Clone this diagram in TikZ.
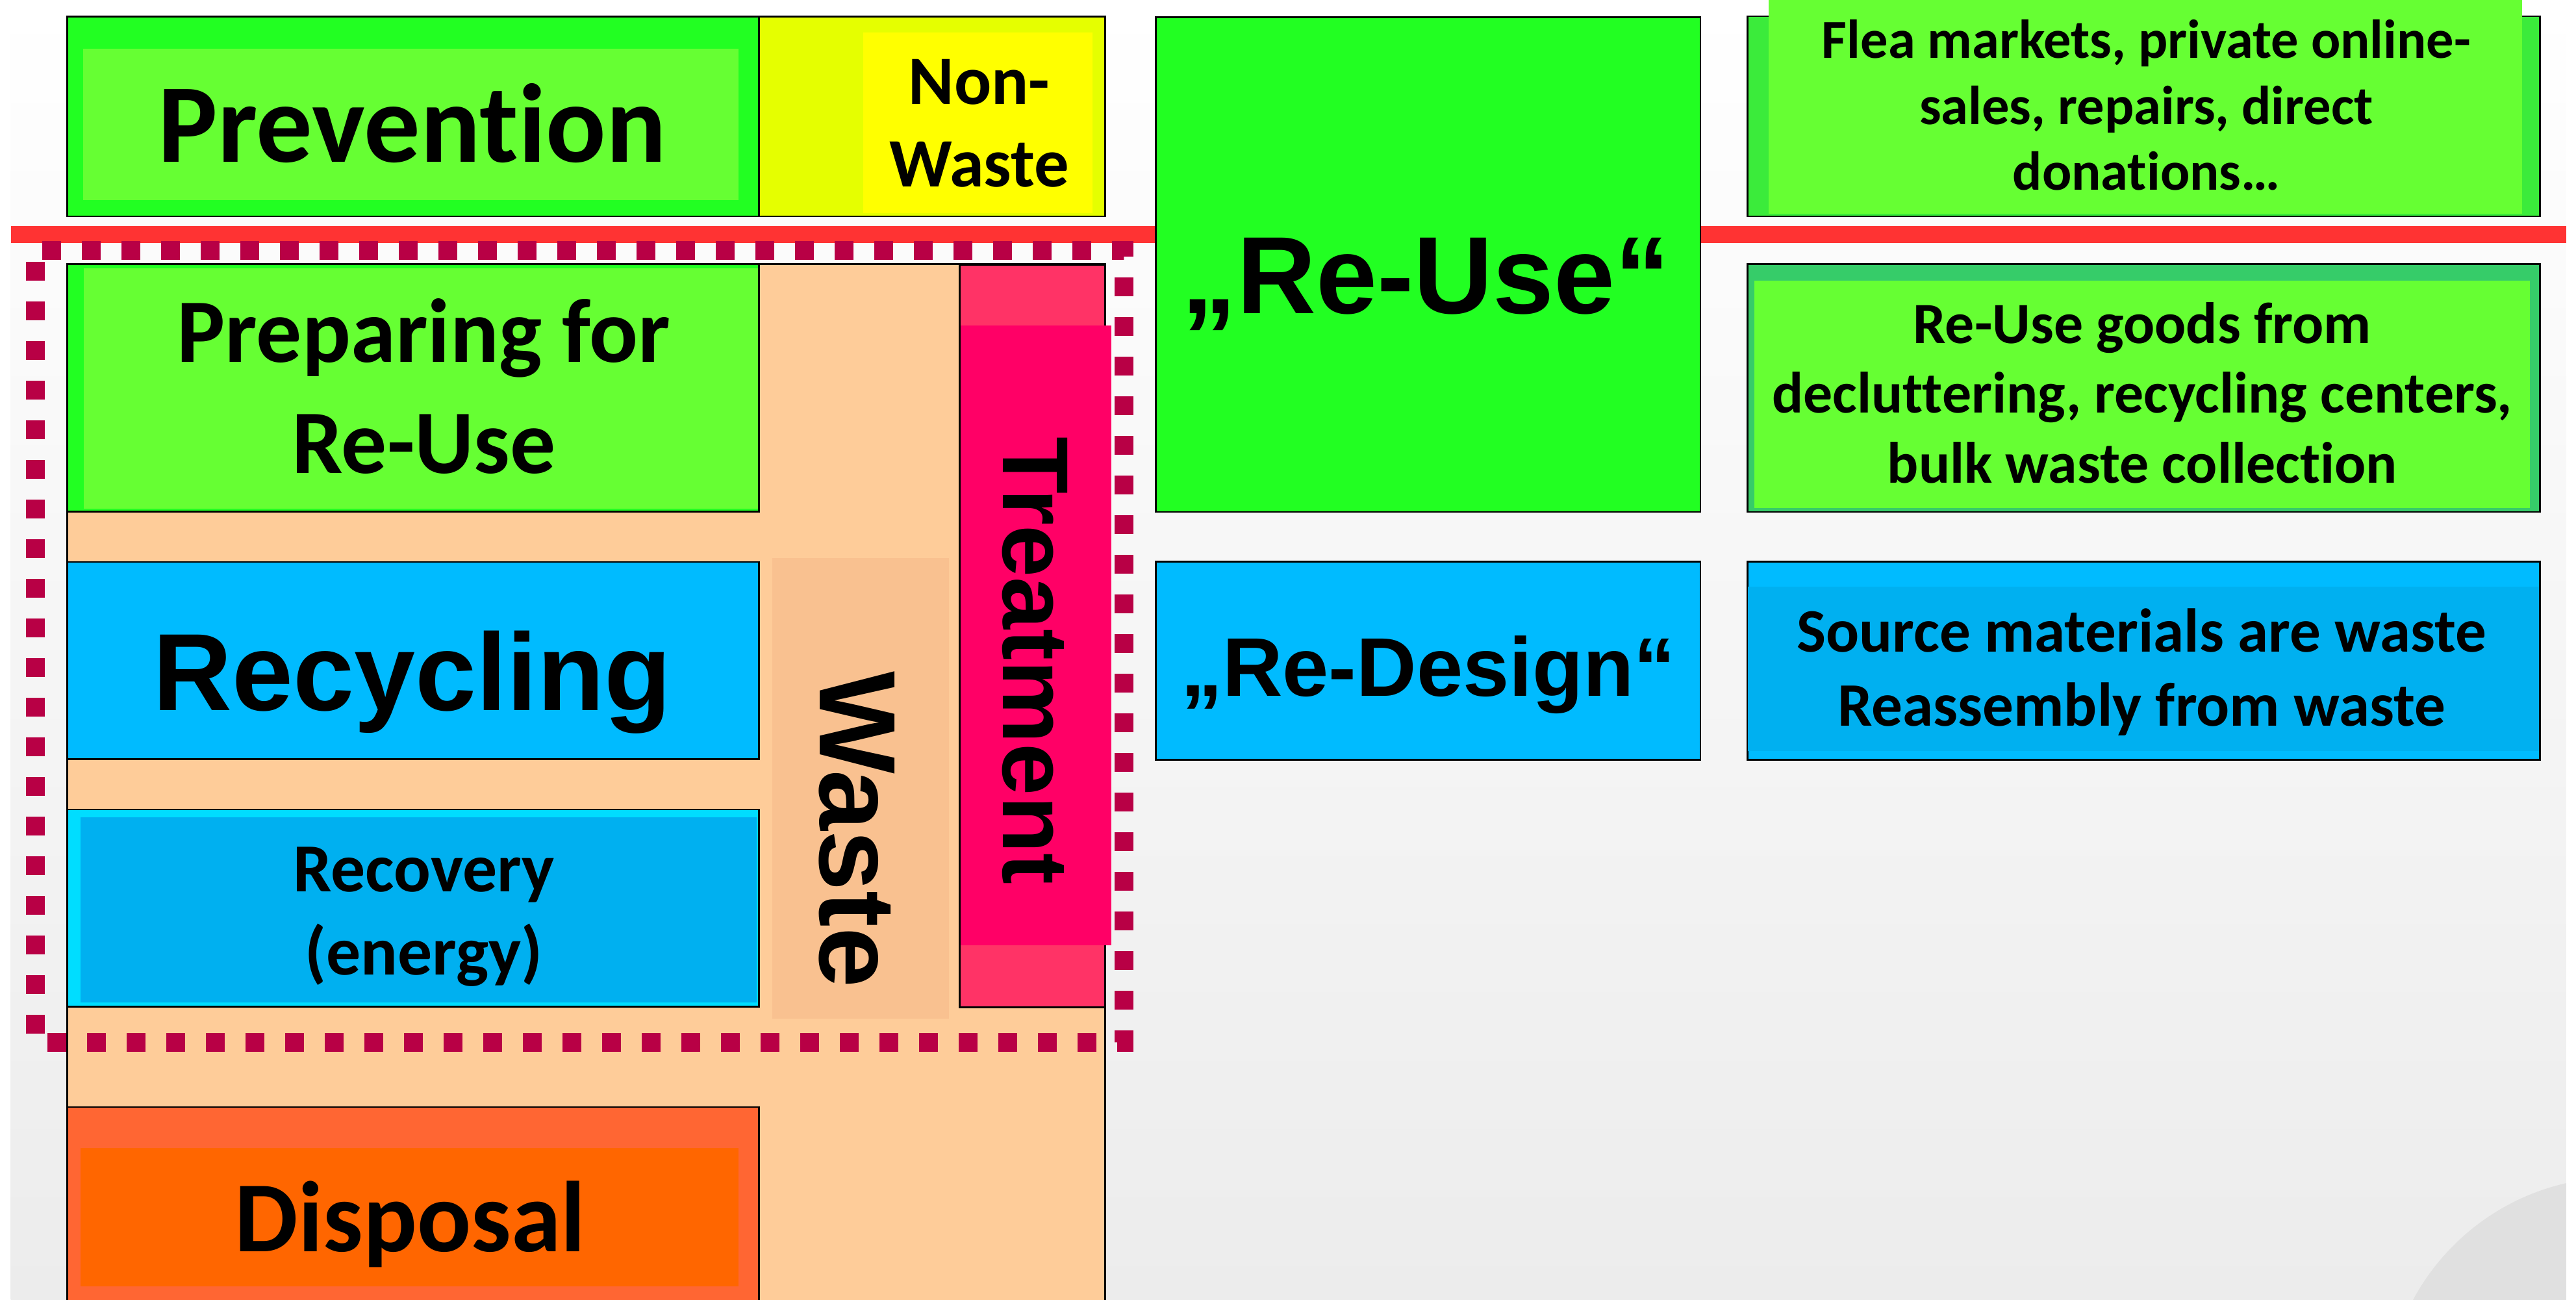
\documentclass[tikz,border=0pt]{standalone}
\usepackage{fontspec}
\setmainfont{Carlito}[Ligatures=NoCommon]
\newfontfamily\arialfont{Liberation Sans}
\definecolor{vivid}{RGB}{34,255,34}
\definecolor{lime}{RGB}{102,255,51}
\definecolor{leaf}{RGB}{59,235,59}
\definecolor{jade}{RGB}{54,204,105}
\definecolor{chartr}{RGB}{229,255,0}
\definecolor{sun}{RGB}{255,255,0}
\definecolor{redline}{RGB}{255,51,51}
\definecolor{crimson}{RGB}{184,0,69}
\definecolor{peach}{RGB}{254,204,153}
\definecolor{sand}{RGB}{249,193,144}
\definecolor{rose}{RGB}{255,51,102}
\definecolor{hotpink}{RGB}{255,0,102}
\definecolor{sky}{RGB}{0,187,255}
\definecolor{aqua}{RGB}{0,221,255}
\definecolor{ocean}{RGB}{0,176,240}
\definecolor{tangerine}{RGB}{255,102,51}
\definecolor{ember}{RGB}{255,102,0}
\definecolor{bggray}{RGB}{236,236,236}
\definecolor{disc}{RGB}{224,224,224}
\newcommand{\fsz}[2]{\fontsize{#1}{#2}\selectfont\bfseries}
\tikzset{boxline/.style = {draw=black, line width=0.3pt}}
\tikzset{lbl/.style = {inner sep=0}}
\tikzset{multi/.style = {inner sep=0, align=center}}
\tikzset{dotframe/.style = {draw=crimson, line width=0.115cm, dash pattern=on 0.115cm off 0.126cm, dash phase=0.171cm}}

\begin{document}
\begin{tikzpicture}[x=0.01cm, y=-0.01cm]
    \useasboundingbox (0,0) rectangle (1568,791);
    \clip (0,0) rectangle (1568,791);
    \fill[white] (0,0) rectangle (1568,791);
    \shade[top color=white, bottom color=bggray] (6.6,0) rectangle (1562,791);
    \begin{scope}
      \clip (6.6,0) rectangle (1562,791);
      \fill[disc] (1593.5,858) circle (141.5);
    \end{scope}
    \draw[redline, line width=0.102cm] (6.6,142.7) -- (1562,142.7);

    \fill[vivid] (40.9,10.2) rectangle (462,131.6);
    \fill[lime] (50.8,29.5) rectangle (449.4,121.9);
    \fill[chartr] (462,10.2) rectangle (672.7,131.6);
    \fill[sun] (525.6,19.7) rectangle (665,129.8);
    \draw[boxline] (40.9,10.2) rectangle (672.7,131.6) (462,10.2) -- (462,131.6);

    \filldraw[boxline, fill=peach] (40.9,800) |- (672.7,160.7) -- (672.7,800);
    \filldraw[boxline, fill=vivid] (40.9,160.7) rectangle (462,311.4);
    \fill[lime] (51,163.4) rectangle (461.5,309.4);
    \filldraw[boxline, fill=sky] (40.9,342) rectangle (462,462);
    \filldraw[boxline, fill=aqua] (40.9,492.6) rectangle (462,612.5);
    \fill[ocean] (49,497.4) rectangle (460.7,610);
    \filldraw[boxline, fill=tangerine] (40.9,673.7) rectangle (462,800);
    \fill[ember] (49,698.5) rectangle (449.4,782.7);
    \fill[sand] (470.2,339.6) rectangle (577.6,620);
    \filldraw[boxline, fill=rose] (584.2,161) rectangle (672.7,613.1);
    \fill[hotpink] (584.2,198.1) rectangle (676.4,575.2);
    \draw[boxline] (584.2,198.1) -- (584.2,575.2);

    \draw[dotframe] (21.5,152.4) rectangle (684.3,634.3);

    \filldraw[boxline, fill=vivid] (703.6,10.6) rectangle (1035.1,311.6);
    \filldraw[boxline, fill=sky] (703.6,341.9) rectangle (1035.1,462.3);
    \filldraw[boxline, fill=leaf] (1063.6,9.9) rectangle (1546,131.7);
    \fill[lime] (1076.6,0) rectangle (1535.3,130.1);
    \filldraw[boxline, fill=jade] (1063.6,160.8) rectangle (1546,311.6);
    \fill[lime] (1068,170.7) rectangle (1540,309.2);
    \filldraw[boxline, fill=sky] (1063.6,341.9) rectangle (1546,462.3);
    \fill[ocean] (1064,357) rectangle (1545.6,456.9);

    \node[lbl, anchor=base, font=\fsz{19.4}{23}] (prevention) at (251,98.7) {Prevention};
    \node[multi, font=\fsz{12}{14.2}] (nonwaste) at (596,75) {Non-\\Waste};
    \node[multi, font=\fsz{15.7}{19.3}] (preparing) at (258,235) {Preparing for\\Re-Use};
    \node[lbl, anchor=base, font=\arialfont\fsz{19}{23}] (recycling) at (250.8,432.3) {Recycling};
    \node[multi, font=\fsz{11.9}{14.4}] (recovery) at (258,558) {Recovery\\(energy)};
    \node[lbl, anchor=base, font=\fsz{17.4}{21}] (disposal) at (249.7,761.5) {Disposal};
    \node[lbl, anchor=base, rotate=-90, font=\arialfont\fsz{18.8}{22}] (waste) at (499.3,504.9) {Waste};
    \node[lbl, anchor=base, rotate=-90, font=\arialfont\fsz{16.2}{19}] (treatment) at (610.5,402) {Treatment};
    \node[lbl, anchor=base, font=\arialfont\fsz{19}{23}] (reuse) at (868,190.6) {„Re-Use“};
    \node[lbl, anchor=base, font=\arialfont\fsz{14.4}{17}] (redesign) at (869.4,423.6) {„Re-Design“};
    \node[multi, font=\fsz{9.5}{11.4}] (flea) at (1306.5,64) {Flea markets, private online-\\sales, repairs, direct\\donations…};
    \node[multi, font=\fsz{10.1}{12.1}] (goods) at (1304,239) {Re-Use goods from\\decluttering, recycling centers,\\bulk waste collection};
    \node[multi, font=\fsz{10.7}{12.9}] (source) at (1303.7,409) {Source materials are waste\\Reassembly from waste};
  \end{tikzpicture}
\end{document}
